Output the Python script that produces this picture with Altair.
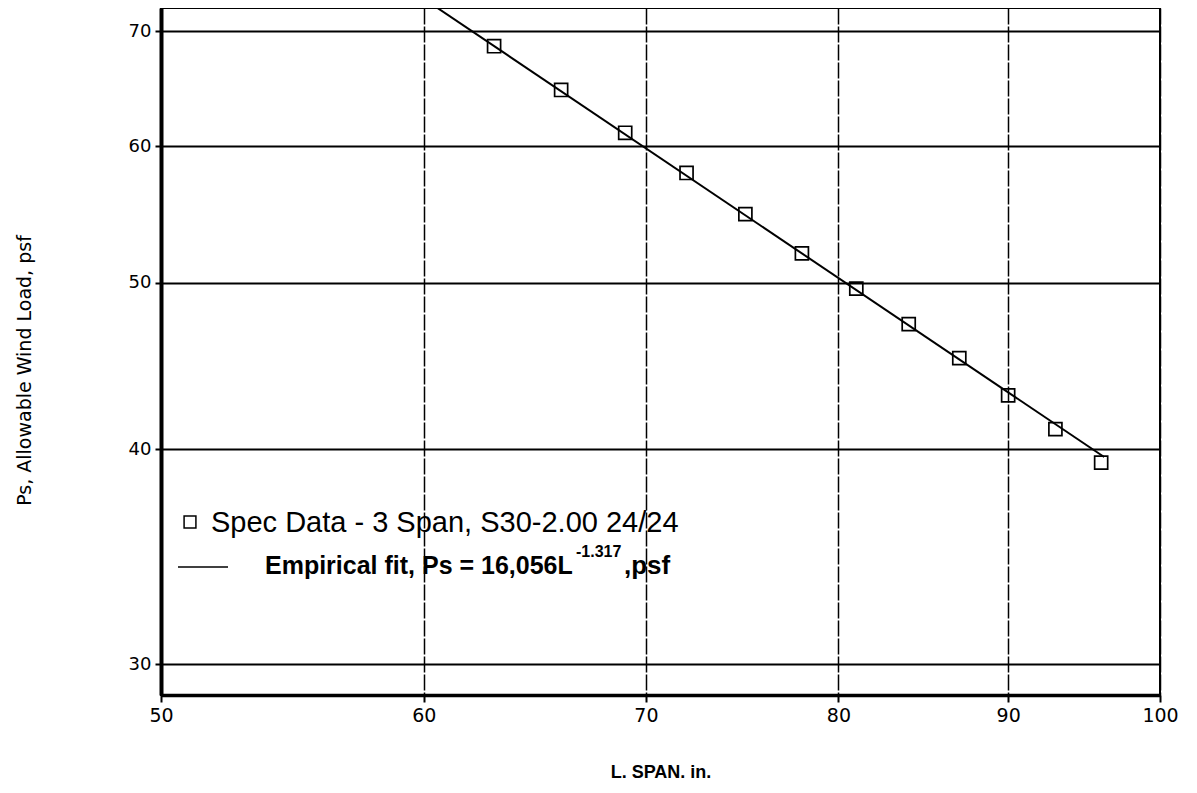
import altair as alt
import pandas as pd

# Spec data
span = [63, 66, 69, 72, 75, 78, 81, 84, 87, 90, 93, 96]
load = [68.6, 64.7, 61.1, 57.9, 54.8, 52.0, 49.6, 47.3, 45.2, 43.0, 41.1, 39.3]

# Empirical fit line end points
fit_span = [60.0, 96.2]
fit_load = [73.1, 39.6]

x_ticks = [50, 60, 70, 80, 90, 100]
y_ticks = [30, 40, 50, 60, 70]

legend_text = ["Spec Data - 3 Span, S30-2.00 24/24", "Empirical fit, Ps = 16,056L", "-1.317", ",psf"]

pts = pd.DataFrame({"span": span, "load": load})
fit = pd.DataFrame({"span": fit_span, "load": fit_load})

xscale = alt.Scale(type="log", domain=[50, 100], nice=False)
yscale = alt.Scale(type="log", domain=[28.8, 72.2], nice=False)

xaxis = alt.Axis(
    values=x_ticks, title="L. SPAN. in.", grid=True, gridColor="black", gridWidth=1.5,
    gridDash=[16, 2], domainColor="black", domainWidth=3.5, tickColor="black", tickWidth=2,
    tickSize=7, labelFont="DejaVu Sans", labelFontSize=19, labelColor="black", labelPadding=4,
    titleFont="Liberation Sans", titleFontSize=18, titleFontWeight="bold", titleColor="black",
    titlePadding=38, labelFlush=False,
)
yaxis = alt.Axis(
    values=y_ticks, title="Ps, Allowable Wind Load, psf", grid=True, gridColor="black",
    gridWidth=2, domainColor="black", domainWidth=4, tickColor="black", tickWidth=2, tickSize=6,
    labelFont="DejaVu Sans", labelFontSize=18, labelColor="black", labelPadding=4,
    titleFont="DejaVu Sans", titleFontSize=19, titleFontWeight="normal", titleColor="black",
    titleX=-137, titleY=362, titleBaseline="middle", titleAngle=-90,
)

line = alt.Chart(fit).mark_line(color="black", strokeWidth=2, clip=True).encode(
    x=alt.X("span:Q", scale=xscale, axis=xaxis),
    y=alt.Y("load:Q", scale=yscale, axis=yaxis),
)

points = alt.Chart(pts).mark_point(
    shape="square", filled=False, size=170, color="black", strokeWidth=1.7, opacity=1
).encode(
    x=alt.X("span:Q", scale=xscale),
    y=alt.Y("load:Q", scale=yscale),
)

leg_df = pd.DataFrame({"t": legend_text})

leg_sym = alt.Chart(leg_df.iloc[[0]]).mark_point(
    shape="square", filled=False, size=140, color="black", strokeWidth=1.5, opacity=1
).encode(x=alt.value(29), y=alt.value(514))

leg_t1 = alt.Chart(leg_df.iloc[[0]]).mark_text(
    align="left", baseline="middle", font="Liberation Sans", fontSize=29, color="black"
).encode(x=alt.value(50), y=alt.value(515), text="t:N")

leg_rule = alt.Chart(leg_df.iloc[[1]]).mark_rule(color="black", strokeWidth=1.5).encode(
    x=alt.value(17), x2=alt.value(67), y=alt.value(559)
)

leg_t2 = alt.Chart(leg_df.iloc[[1]]).mark_text(
    align="left", baseline="middle", font="Liberation Sans", fontSize=25, fontWeight="bold", color="black"
).encode(x=alt.value(104), y=alt.value(558), text="t:N")

leg_sup = alt.Chart(leg_df.iloc[[2]]).mark_text(
    align="left", baseline="middle", font="Liberation Sans", fontSize=16, fontWeight="bold", color="black"
).encode(x=alt.value(415), y=alt.value(544), text="t:N")

leg_t3 = alt.Chart(leg_df.iloc[[3]]).mark_text(
    align="left", baseline="middle", font="Liberation Sans", fontSize=26, fontWeight="bold", color="black"
).encode(x=alt.value(463), y=alt.value(558), text="t:N")

chart = alt.layer(line, points, leg_sym, leg_t1, leg_rule, leg_t2, leg_sup, leg_t3).properties(
    width=999, height=687,
    padding={"left": 153, "top": 0, "right": 20, "bottom": 90},
    autosize=alt.AutoSizeParams(type="none"),
    background="white",
).configure_view(stroke="black", strokeWidth=2)

chart.save("out.html", embed_options={"renderer": "svg", "actions": False})
